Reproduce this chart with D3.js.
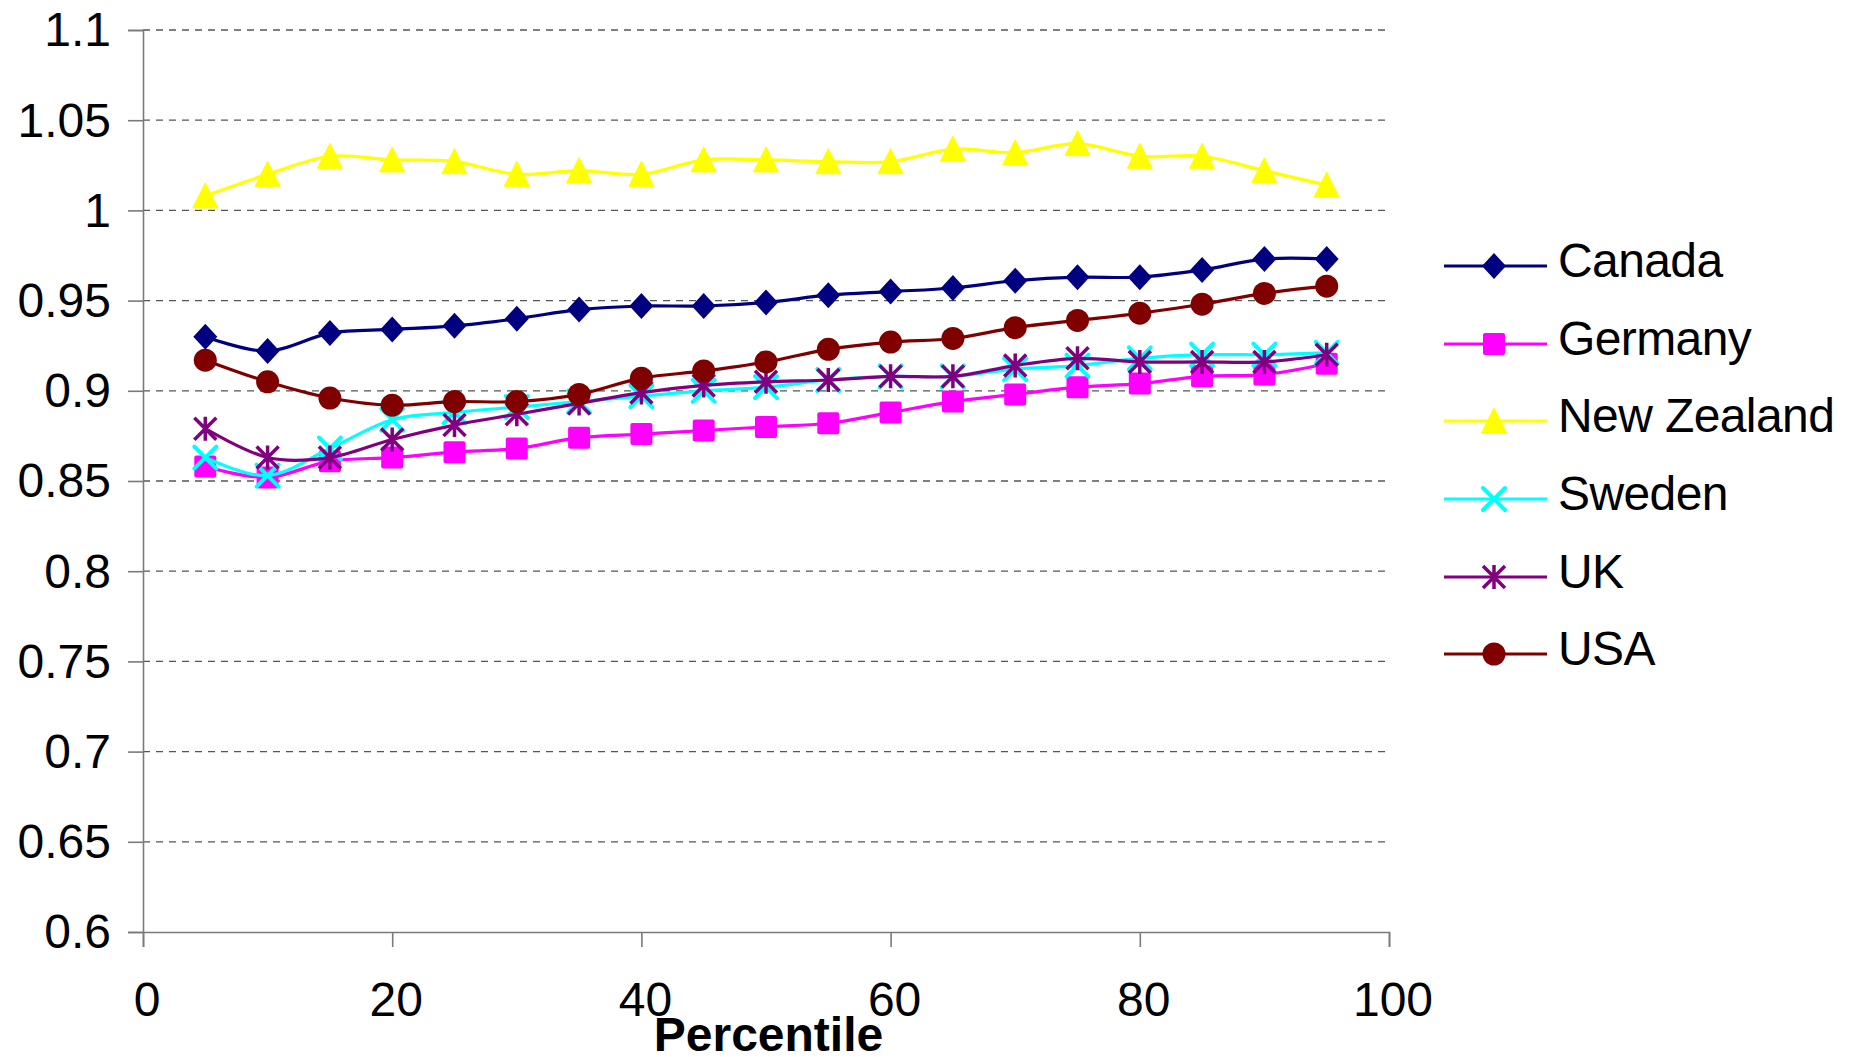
<!DOCTYPE html>
<html>
<head>
<meta charset="utf-8">
<script src="https://cdn.jsdelivr.net/npm/d3@7"></script>
<style>
  html, body { margin: 0; padding: 0; background: #fff; }
  svg { display: block; font-family: "Liberation Sans", Arial, sans-serif; }
</style>
</head>
<body>
<svg id="chart" width="1854" height="1057"></svg>
<script>
// Percentile points along the income distribution
const percentiles = [5, 10, 15, 20, 25, 30, 35, 40, 45, 50, 55, 60, 65, 70, 75, 80, 85, 90, 95];

// Ratio by percentile for each country
const canada     = [0.930, 0.922, 0.932, 0.934, 0.936, 0.940, 0.945, 0.947, 0.947, 0.949, 0.953, 0.955, 0.957, 0.961, 0.963, 0.963, 0.967, 0.973, 0.973];
const germany    = [0.858, 0.852, 0.861, 0.863, 0.866, 0.868, 0.874, 0.876, 0.878, 0.880, 0.882, 0.888, 0.894, 0.898, 0.902, 0.904, 0.908, 0.909, 0.915];
const newZealand = [1.008, 1.020, 1.030, 1.028, 1.027, 1.020, 1.022, 1.020, 1.028, 1.028, 1.027, 1.027, 1.034, 1.032, 1.037, 1.030, 1.030, 1.022, 1.014];
const sweden     = [0.863, 0.853, 0.868, 0.884, 0.888, 0.891, 0.894, 0.897, 0.900, 0.902, 0.906, 0.908, 0.908, 0.912, 0.914, 0.918, 0.920, 0.920, 0.921];
const uk         = [0.879, 0.863, 0.863, 0.873, 0.881, 0.887, 0.893, 0.899, 0.903, 0.905, 0.906, 0.908, 0.908, 0.914, 0.918, 0.916, 0.916, 0.916, 0.920];
const usa        = [0.917, 0.905, 0.896, 0.892, 0.894, 0.894, 0.898, 0.907, 0.911, 0.916, 0.923, 0.927, 0.929, 0.935, 0.939, 0.943, 0.948, 0.954, 0.958];

const countryNames = ["Canada", "Germany", "New Zealand", "Sweden", "UK", "USA"];
const countryValues = [canada, germany, newZealand, sweden, uk, usa];
const countryColors = ["#000080", "#FF00FF", "#FFFF00", "#00FFFF", "#800080", "#800000"];
const countryMarkers = ["diamond", "square", "triangle", "cross", "star", "circle"];

// Axis ticks
const xTicks = [0, 20, 40, 60, 80, 100];
const yTicks = [0.6, 0.65, 0.7, 0.75, 0.8, 0.85, 0.9, 0.95, 1, 1.05, 1.1];
const yTickLabels = ["0.6", "0.65", "0.7", "0.75", "0.8", "0.85", "0.9", "0.95", "1", "1.05", "1.1"];
const xTitle = "Percentile";

const svg = d3.select("#chart");
const plotLeft = 143, plotRight = 1389, plotTop = 30, plotBottom = 932;

const x = d3.scaleLinear().domain([0, 100]).range([plotLeft, plotRight]);
const y = d3.scaleLinear().domain([0.6, 1.1]).range([plotBottom, plotTop]);

svg.append("rect").attr("width", 1854).attr("height", 1057).attr("fill", "#fff");

// Dashed horizontal gridlines
svg.append("g")
  .selectAll("line")
  .data(yTicks.filter(v => v > 0.6))
  .join("line")
  .attr("x1", plotLeft).attr("x2", plotRight)
  .attr("y1", d => y(d)).attr("y2", d => y(d))
  .attr("stroke", "#555")
  .attr("stroke-width", 1.3)
  .attr("stroke-dasharray", "7,6");

// Y axis
const yAxis = svg.append("g")
  .attr("transform", `translate(${plotLeft},0)`)
  .call(d3.axisLeft(y)
    .tickValues(yTicks)
    .tickSize(15)
    .tickPadding(17)
    .tickFormat((d, i) => yTickLabels[i]));
yAxis.select(".domain").attr("stroke", "#7a7a7a").attr("stroke-width", 1.6);
yAxis.selectAll(".tick line").attr("stroke", "#7a7a7a").attr("stroke-width", 1.6);
yAxis.selectAll(".tick text")
  .attr("font-size", 48)
  .attr("font-family", "'Liberation Sans', Arial, sans-serif")
  .attr("fill", "#000")
  .attr("dy", "0.33em");

// X axis
const xAxis = svg.append("g")
  .attr("transform", `translate(0,${plotBottom})`)
  .call(d3.axisBottom(x)
    .tickValues(xTicks)
    .tickSize(15)
    .tickPadding(35)
    .tickFormat(d3.format("d")));
xAxis.select(".domain").attr("stroke", "#7a7a7a").attr("stroke-width", 1.6);
xAxis.selectAll(".tick line").attr("stroke", "#7a7a7a").attr("stroke-width", 1.6);
xAxis.selectAll(".tick text")
  .attr("font-size", 48)
  .attr("font-family", "'Liberation Sans', Arial, sans-serif")
  .attr("fill", "#000")
  .attr("dx", 3.5);

// Axis title
svg.append("text")
  .attr("x", (plotLeft + plotRight) / 2 + 2.5)
  .attr("y", 1051)
  .attr("text-anchor", "middle")
  .attr("font-size", 48)
  .attr("font-weight", "bold")
  .attr("fill", "#000")
  .text(xTitle);

// Marker shapes
function drawMarker(g, type, color) {
  switch (type) {
    case "diamond":
      g.append("path").attr("d", "M0,-13L12,0L0,13L-12,0Z").attr("fill", color);
      break;
    case "square":
      g.append("rect").attr("x", -11).attr("y", -11).attr("width", 22).attr("height", 22)
        .attr("rx", 2).attr("fill", color);
      break;
    case "triangle":
      g.append("path").attr("d", "M0,-13L12.5,12L-12.5,12Z").attr("fill", color)
        .attr("stroke", color).attr("stroke-width", 1).attr("stroke-linejoin", "round");
      break;
    case "cross":
      g.append("path").attr("d", "M-11,-11L11,11M-11,11L11,-11")
        .attr("stroke", color).attr("stroke-width", 4).attr("stroke-linecap", "round").attr("fill", "none");
      break;
    case "star":
      g.append("path").attr("d", "M-11,-11L11,11M-11,11L11,-11M0,-12L0,12")
        .attr("stroke", color).attr("stroke-width", 3.5).attr("stroke-linecap", "butt").attr("fill", "none");
      break;
    case "circle":
      g.append("circle").attr("r", 11.5).attr("fill", color);
      break;
  }
}

const line = d3.line()
  .x((d, i) => x(percentiles[i]))
  .y(d => y(d))
  .curve(d3.curveCatmullRom.alpha(0));

// Series: lines then markers, in order so later countries sit on top
countryValues.forEach((vals, k) => {
  const g = svg.append("g");
  g.append("path")
    .datum(vals)
    .attr("d", line)
    .attr("fill", "none")
    .attr("stroke", countryColors[k])
    .attr("stroke-width", 3.2)
    .attr("stroke-linejoin", "round");
  g.selectAll("g.pt")
    .data(vals)
    .join("g")
    .attr("class", "pt")
    .attr("transform", (d, i) => `translate(${x(percentiles[i])},${y(d)})`)
    .each(function () { drawMarker(d3.select(this), countryMarkers[k], countryColors[k]); });
});

// Legend
const legend = svg.append("g");
const legendY = [266, 344, 421, 499, 577, 654];
countryNames.forEach((name, k) => {
  const row = legend.append("g").attr("transform", `translate(0,${legendY[k]})`);
  row.append("line")
    .attr("x1", 1444).attr("x2", 1547).attr("y1", 0).attr("y2", 0)
    .attr("stroke", countryColors[k]).attr("stroke-width", 3.2);
  const m = row.append("g").attr("transform", "translate(1494,0)");
  drawMarker(m, countryMarkers[k], countryColors[k]);
  row.append("text")
    .attr("x", 1558).attr("y", -6).attr("dy", "0.35em")
    .attr("font-size", 48)
    .attr("letter-spacing", -0.6)
    .attr("fill", "#000")
    .text(name);
});
</script>
</body>
</html>
